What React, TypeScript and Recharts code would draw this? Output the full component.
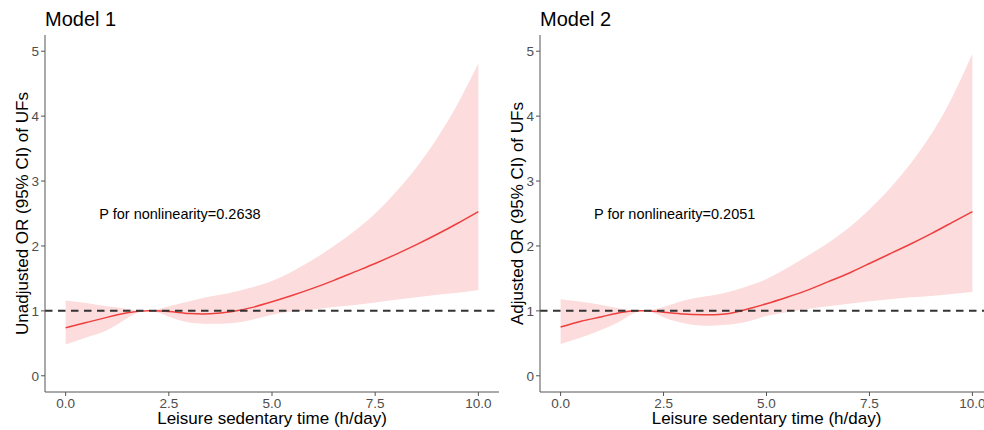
import React from 'react';
import {
  Area,
  ComposedChart,
  Line,
  ReferenceDot,
  ReferenceLine,
  XAxis,
  YAxis,
} from 'recharts';

// x grid (h/day) shared by both panels
const X_VALUES = [0, 0.5, 1, 1.5, 2, 2.5, 3, 3.5, 4, 4.5, 5, 5.5, 6, 6.5, 7, 7.5, 8, 8.5, 9, 9.5, 10];

// Model 1 (unadjusted)
const M1_OR = [0.74, 0.82, 0.9, 0.97, 1.0, 0.99, 0.96, 0.955, 0.985, 1.05, 1.14, 1.24, 1.35, 1.47, 1.6, 1.73, 1.87, 2.02, 2.18, 2.35, 2.53];
const M1_LOWER = [0.48, 0.59, 0.7, 0.89, 1.0, 0.91, 0.82, 0.8, 0.81, 0.86, 0.94, 0.99, 1.02, 1.06, 1.09, 1.13, 1.17, 1.21, 1.25, 1.28, 1.32];
const M1_UPPER = [1.16, 1.12, 1.07, 1.03, 1.0, 1.07, 1.15, 1.22, 1.28, 1.36, 1.46, 1.61, 1.79, 2.0, 2.23, 2.5, 2.83, 3.21, 3.66, 4.19, 4.81];

// Model 2 (adjusted)
const M2_OR = [0.75, 0.84, 0.91, 0.98, 1.0, 0.98, 0.95, 0.94, 0.95, 1.02, 1.11, 1.21, 1.32, 1.45, 1.58, 1.73, 1.88, 2.03, 2.19, 2.36, 2.53];
const M2_LOWER = [0.49, 0.59, 0.71, 0.86, 1.0, 0.9, 0.81, 0.77, 0.785, 0.83, 0.92, 0.98, 1.03, 1.07, 1.11, 1.15, 1.18, 1.21, 1.23, 1.26, 1.29];
const M2_UPPER = [1.18, 1.14, 1.09, 1.03, 1.0, 1.06, 1.16, 1.22, 1.28, 1.37, 1.49, 1.66, 1.85, 2.05, 2.28, 2.56, 2.89, 3.27, 3.72, 4.28, 4.96];

const X_TICKS = [0, 2.5, 5, 7.5, 10];
const Y_TICKS = [0, 1, 2, 3, 4, 5];

const FONT = '"Liberation Sans", Arial, sans-serif';
const AXIS = '#555555';
const TICK_TEXT = '#4d4d4d';
const LINE_RED = '#ee3f3f';
const BAND_PINK = '#fcdcdc';

type Row = { x: number; or: number; band: [number, number] };

function buildRows(or: number[], lo: number[], hi: number[]): Row[] {
  return X_VALUES.map((x, i) => ({ x, or: or[i], band: [lo[i], hi[i]] }));
}

interface PanelProps {
  left: number;
  width: number;
  yAxisWidth: number;
  title: string;
  yLabel: string;
  pText: string;
  rows: Row[];
}

function Panel({ left, width, yAxisWidth, title, yLabel, pText, rows }: PanelProps) {
  return (
    <div style={{ position: 'absolute', left, top: 0, width, height: 430 }}>
      <div
        style={{
          position: 'absolute',
          left: yAxisWidth,
          top: 9,
          fontSize: 20,
          lineHeight: '20px',
          fontFamily: FONT,
          color: '#000',
          whiteSpace: 'nowrap',
        }}
      >
        {title}
      </div>
      <ComposedChart
        width={width}
        height={430}
        data={rows}
        margin={{ top: 35, right: 1, bottom: 0, left: 0 }}
        style={{ fontFamily: FONT }}
      >
        <XAxis
          dataKey="x"
          type="number"
          domain={[-0.5, 10.5]}
          ticks={X_TICKS}
          allowDataOverflow
          height={38}
          tickSize={4}
          tickFormatter={(v: number) => v.toFixed(1)}
          tick={{ fill: TICK_TEXT, fontSize: 13.5 }}
          tickLine={{ stroke: AXIS }}
          axisLine={{ stroke: AXIS, strokeWidth: 1 }}
          label={{
            content: (props: any) => {
              const vb = props.viewBox;
              return (
                <text
                  x={vb.x + vb.width / 2}
                  y={424}
                  textAnchor="middle"
                  fontSize={17}
                  fill="#000"
                >
                  Leisure sedentary time (h/day)
                </text>
              );
            },
          }}
        />
        <YAxis
          type="number"
          domain={[-0.25, 5.25]}
          ticks={Y_TICKS}
          allowDataOverflow
          width={yAxisWidth}
          tickSize={4}
          tick={{ fill: TICK_TEXT, fontSize: 13.5 }}
          tickLine={{ stroke: AXIS }}
          axisLine={{ stroke: AXIS, strokeWidth: 1 }}
          label={{
            content: (props: any) => {
              const vb = props.viewBox;
              const cx = yAxisWidth - 17;
              const cy = vb.y + vb.height / 2;
              return (
                <text
                  x={cx}
                  y={cy}
                  transform={`rotate(-90, ${cx}, ${cy})`}
                  textAnchor="middle"
                  fontSize={17}
                  fill="#000"
                >
                  {yLabel}
                </text>
              );
            },
          }}
        />
        <Area
          dataKey="band"
          type="natural"
          stroke="none"
          fill={BAND_PINK}
          fillOpacity={1}
          isAnimationActive={false}
        />
        <Line
          dataKey="or"
          type="natural"
          stroke={LINE_RED}
          strokeWidth={1.5}
          dot={false}
          activeDot={false}
          isAnimationActive={false}
        />
        <ReferenceLine y={1} stroke="#333333" strokeWidth={2} strokeDasharray="7.5 5.5" />
        <ReferenceDot
          x={2.77}
          y={2.5}
          r={1}
          fill="none"
          stroke="none"
          label={{ value: pText, position: 'center', fill: '#000', fontSize: 14.5 }}
        />
      </ComposedChart>
    </div>
  );
}

export default function App() {
  const rows1 = buildRows(M1_OR, M1_LOWER, M1_UPPER);
  const rows2 = buildRows(M2_OR, M2_LOWER, M2_UPPER);
  return (
    <div
      style={{
        position: 'fixed',
        left: 0,
        top: 0,
        width: 984,
        height: 430,
        overflow: 'hidden',
        background: '#fff',
        fontFamily: FONT,
      }}
    >
      <Panel
        left={492}
        width={502}
        yAxisWidth={48}
        title="Model 2"
        yLabel="Adjusted OR (95% CI) of UFs"
        pText="P for nonlinearity=0.2051"
        rows={rows2}
      />
      <Panel
        left={0}
        width={500}
        yAxisWidth={45}
        title="Model 1"
        yLabel="Unadjusted OR (95% CI) of UFs"
        pText="P for nonlinearity=0.2638"
        rows={rows1}
      />
    </div>
  );
}
